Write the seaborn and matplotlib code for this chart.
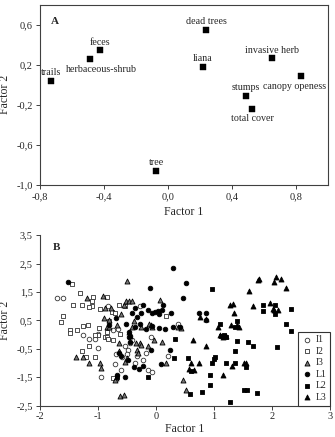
import matplotlib
matplotlib.use("Agg")
import matplotlib.pyplot as plt
from matplotlib.ticker import FuncFormatter
import seaborn as sns
import pandas as pd

# panel A: factor loadings
var_names = ['trails', 'herbaceous-shrub', 'feces', 'tree', 'dead trees', 'liana',
             'invasive herb', 'canopy openess', 'stumps', 'total cover']
var_f1 = [-0.733, -0.486, -0.426, -0.074, 0.24, 0.217, 0.651, 0.832, 0.485, 0.526]
var_f2 = [0.04, 0.257, 0.348, -0.859, 0.55, 0.18, 0.264, 0.092, -0.109, -0.24]

# panel B: site scores per group
i1_x = [-1.71, -1.6, -1.25, -1.15, -1.05, -1.0, -1.0, -0.95, -0.82, -0.74,
        -0.65, -0.71, -0.6, -0.53, -0.48, -0.5, -0.42, -0.36, -0.32, -0.22,
        -0.28, -0.17, -0.13, -0.09, -0.07, 0.21, 0.38, -0.68, -0.59, -0.45]
i1_y = [1.27, 1.27, 0.0, -0.17, -0.14, 0.03, -0.48, -1.48, 1.0, 0.15,
        0.2, -1.05, -1.25, -0.42, -0.53, -0.7, -0.2, -1.0, -0.76, -0.88,
        1.0, -0.65, -1.25, -0.08, -1.33, -0.74, 0.37, -0.7, -0.8, -0.3]
i2_x = [-1.45, -1.31, -1.27, -1.43, -1.6, -1.64, -1.48, -1.48, -1.36, -1.25,
        -1.17, -1.28, -1.15, -1.21, -1.05, -1.11, -1.1, -1.09, -0.98, -0.99,
        -1.05, -0.97, -0.88, -0.85, -0.84, -0.82, -0.8, -0.76, -0.84, -0.74,
        -0.64, -0.62, -0.74, -0.53, 0.18, -1.15, -0.7]
i2_y = [1.77, 1.45, 1.03, 1.03, 0.64, 0.43, 0.15, 0.07, 0.15, 0.3,
        0.35, -0.57, -0.4, -0.78, -0.78, 1.0, 1.17, 1.32, 0.24, -0.02,
        -0.02, 0.89, -0.1, -0.08, 0.09, -0.14, 0.47, 0.81, 1.33, -0.19,
        1.03, 0.03, -1.53, 1.0, 0.64, 0.98, 0.75]
i3_x = [-1.37, -1.25, -1.15, -1.18, -0.91, -0.88, -0.9, -0.85, -0.8, -0.97,
        -0.95, -0.69, -0.71, -0.64, -0.63, -0.67, -0.6, -0.55, -0.51, -0.46,
        -0.41, -0.49, -0.53, -0.5, -0.45, -0.47, -0.42, -0.37, -0.35, -0.33,
        -0.31, -0.28, -0.26, -0.25, -0.12, -0.09, -0.06, -0.13, -0.03, 0.07,
        0.1, 0.17, 0.38, 0.44, 0.46, 0.51, -0.62, -0.55, -0.8, -0.78]
i3_y = [-0.8, -0.8, -0.99, 1.28, 1.37, 0.94, 0.58, 0.26, 0.26, -1.0,
        -1.17, -1.53, -1.61, -0.31, -0.59, 0.32, 0.72, 1.03, 1.19, 1.19,
        1.19, 1.89, -0.95, -0.82, -0.06, 0.09, 0.26, 0.47, -0.31, -0.56,
        -0.65, -0.31, -0.37, 0.26, 0.37, 0.32, 0.26, -0.42, -0.19, 1.22,
        -0.25, -1.0, 0.26, 0.24, -1.61, -1.95, -2.18, -2.12, 0.5, 0.95]
l1_x = [-1.51, 0.3, 0.51, 0.47, -0.1, -0.22, 0.13, 0.11, 0.03, -0.69,
        -0.51, -0.42, -0.36, -0.32, -0.25, -0.13, -0.07, -0.02, 0.05, 0.26,
        0.74, 0.87, 0.86, 0.41, 0.29, 0.16, 0.05, -0.06, -0.17, -0.28,
        -0.36, -0.46, -0.46, -0.44, -0.64, -0.61, -0.48, -0.37, -0.29, -0.22,
        -0.09, 0.09, 0.24, -0.67, -0.53, -0.81, -0.45]
l1_y = [1.85, 2.35, 1.82, 1.28, 1.65, 1.03, 1.03, 0.85, 0.83, 0.58,
        0.37, 0.75, 0.94, 0.6, 0.75, 0.85, 0.75, 0.8, 0.72, 0.77,
        0.77, 0.77, 0.51, 0.26, 0.26, 0.18, 0.24, 0.3, 0.2, 0.37,
        0.26, 0.09, -0.1, -0.25, -0.65, -0.75, -0.9, -1.16, -1.2, -1.1,
        -0.53, -1.05, -0.53, -1.42, -1.5, 0.35, -0.05]
l2_x = [0.96, 0.33, 0.31, 0.56, 0.61, 0.59, 0.8, -0.13, -0.67, 0.96,
        0.94, 0.94, 1.0, 1.1, 1.13, 1.18, 1.2, 1.28, 1.36, 1.39,
        1.4, 1.37, 1.21, 1.37, 1.56, 1.59, 1.68, 1.52, 1.57, 1.75,
        1.84, 1.85, 2.05, 2.05, 2.25, 2.32, 2.33, 2.09, 1.02]
l2_y = [1.6, -0.15, -0.84, -0.84, -1.27, -2.1, -2.01, -1.5, -1.5, -1.0,
        -1.44, -1.76, -0.86, 0.37, -0.06, -0.02, -0.1, -2.38, 0.26, 0.49,
        -0.23, -0.57, -1.0, -1.0, -1.16, -0.25, -0.39, -1.95, -1.95, -2.05,
        1.03, 0.83, 1.05, 0.74, 0.38, 0.89, 0.13, -0.44, -0.8]
l3_x = [0.75, 0.87, 0.86, 1.07, 1.1, 1.15, 1.2, 1.15, 1.28, 1.33,
        1.34, 1.3, 1.4, 1.44, 1.32, 1.51, 1.61, 1.67, 1.76, 1.77,
        1.97, 2.01, 2.04, 2.04, 2.07, 2.15, 2.24, 2.1, 0.66, 0.64,
        0.76, 0.61, 1.56, 0.57]
l3_y = [-1.01, -0.42, 0.55, 0.28, -0.02, -0.08, -0.05, -1.44, 1.03, 1.08,
        0.77, 0.32, 0.32, 0.27, -1.1, -0.99, 1.53, 1.01, 1.91, 1.95,
        1.11, 0.91, 0.86, 1.85, 2.01, 1.97, 1.63, 0.86, -1.24, -0.19,
        0.6, -0.99, -0.99, -1.2]

groups = ['I1', 'I2', 'I3', 'L1', 'L2', 'L3']
group_x = [i1_x, i2_x, i3_x, l1_x, l2_x, l3_x]
group_y = [i1_y, i2_y, i3_y, l1_y, l2_y, l3_y]

sns.set_theme(style="ticks")
plt.rcParams['font.family'] = ['Liberation Serif', 'DejaVu Serif']
plt.rcParams['axes.unicode_minus'] = False

comma1 = FuncFormatter(lambda v, p: f"{v:.1f}".replace('.', ','))
comma0 = FuncFormatter(lambda v, p: f"{v:.0f}")

fig = plt.figure(figsize=(3.35, 4.37), dpi=100)
ax1 = fig.add_axes([0.119, 0.577, 0.86, 0.412])
ax2 = fig.add_axes([0.119, 0.072, 0.866, 0.390])

spine_col = '#404040'
for ax in (ax1, ax2):
    for s in ax.spines.values():
        s.set_color(spine_col)
        s.set_linewidth(0.8)
    ax.tick_params(labelsize=7.5, length=3, width=0.7, color=spine_col, pad=2)

# ---- panel A
dfa = pd.DataFrame({'f1': var_f1, 'f2': var_f2, 'name': var_names})
sns.scatterplot(data=dfa, x='f1', y='f2', ax=ax1, marker='s', s=14,
                color='black', edgecolor='black', linewidth=0.3, zorder=3)
offsets = {'trails': (0, 8), 'herbaceous-shrub': (11, -10), 'feces': (0, 8),
           'tree': (0, 8), 'dead trees': (0, 8), 'liana': (0, 8),
           'invasive herb': (0, 8), 'canopy openess': (-7, -11),
           'stumps': (0, 8), 'total cover': (0, -10)}
for n, xv, yv in zip(var_names, var_f1, var_f2):
    ax1.annotate(n, (xv, yv), xytext=offsets[n], textcoords='offset pixels',
                 ha='center', va='center', fontsize=7.2)
ax1.set_xlim(-0.8, 1.0)
ax1.set_ylim(-1.0, 0.8)
ax1.set_xticks([-0.8, -0.4, 0.0, 0.4, 0.8])
ax1.set_yticks([-1.0, -0.6, -0.2, 0.2, 0.6])
ax1.xaxis.set_major_formatter(comma1)
ax1.yaxis.set_major_formatter(comma1)
ax1.set_xlabel('Factor 1', fontsize=8.5, labelpad=4)
ax1.set_ylabel('Factor 2', fontsize=8.5, labelpad=4)
ax1.text(0.04, 0.905, 'A', transform=ax1.transAxes, fontsize=8,
         fontweight='bold', va='center')

# ---- panel B
styles = {
    'I1': dict(marker='o', facecolor='white', edgecolor='#333333', s=11),
    'I2': dict(marker='s', facecolor='white', edgecolor='#333333', s=12),
    'I3': dict(marker='^', facecolor='#777777', edgecolor='black', s=13),
    'L1': dict(marker='o', facecolor='black', edgecolor='black', s=11),
    'L2': dict(marker='s', facecolor='black', edgecolor='black', s=12),
    'L3': dict(marker='^', facecolor='black', edgecolor='black', s=13),
}
for g, xs, ys in zip(groups, group_x, group_y):
    st = styles[g]
    sns.scatterplot(x=xs, y=ys, ax=ax2, marker=st['marker'], s=st['s'],
                    facecolor=st['facecolor'], edgecolor=st['edgecolor'],
                    linewidth=0.6, label=g, zorder=3)
ax2.set_xlim(-2, 3)
ax2.set_ylim(-2.5, 3.5)
ax2.set_xticks([-2, -1, 0, 1, 2, 3])
ax2.set_yticks([-2.5, -1.5, -0.5, 0.5, 1.5, 2.5, 3.5])
ax2.xaxis.set_major_formatter(comma0)
ax2.yaxis.set_major_formatter(comma1)
ax2.spines['top'].set_visible(False)
ax2.spines['right'].set_visible(False)
ax2.set_xlabel('Factor 1', fontsize=8.5, labelpad=1)
ax2.set_ylabel('Factor 2', fontsize=8.5, labelpad=4)
ax2.text(0.045, 0.93, 'B', transform=ax2.transAxes, fontsize=8,
         fontweight='bold', va='center')
leg = ax2.legend(loc='lower right', fontsize=7, borderaxespad=0.0,
                 fancybox=False, framealpha=1, handletextpad=0.2,
                 labelspacing=0.25, borderpad=0.4, handlelength=1.2)
leg.get_frame().set_edgecolor('#333333')
leg.get_frame().set_linewidth(0.8)

fig.savefig('out.png', dpi=100)
